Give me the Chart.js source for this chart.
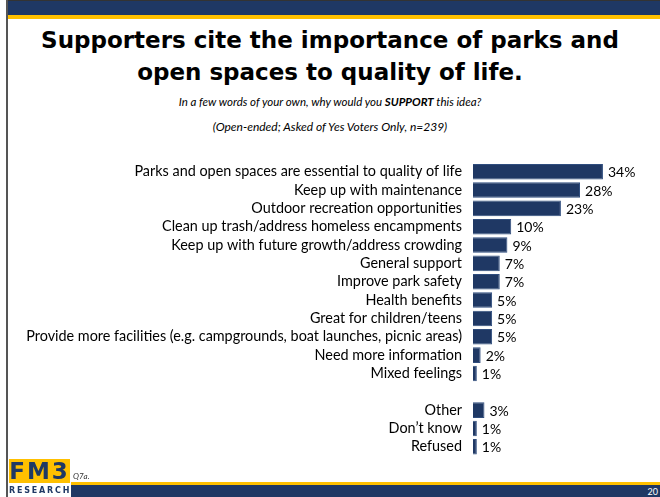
<!DOCTYPE html>
<html>
<head>
<meta charset="utf-8">
<script src="https://cdn.jsdelivr.net/npm/chart.js@4"></script>
<style>
  html, body { margin: 0; padding: 0; background: #fff; }
  #page { position: relative; width: 660px; height: 497px; overflow: hidden; background: #fff; }
  #chart { position: absolute; left: 0; top: 0; }
  .abs { position: absolute; }
  #topbar { left: 8px; top: 0; width: 652px; height: 15px; background: #1f3864; border-top: 1px solid #333; box-sizing: border-box; }
  #topline { left: 8px; top: 15px; width: 652px; height: 4px; background: #ffc000; }
  #leftline { left: 6px; top: 0; width: 2px; height: 497px; background: #555; }
  #title { left: 0; top: 24px; width: 660px; text-align: center; font-family: "DejaVu Sans", sans-serif; font-weight: bold; font-size: 23px; line-height: 32px; color: #000; }
  .sub { left: 0; width: 660px; text-align: center; font-family: Lato, sans-serif; font-style: italic; font-size: 12px; color: #000; }
  #botline { left: 71px; top: 482px; width: 589px; height: 3px; background: #ffc000; }
  #botbar { left: 71px; top: 485px; width: 589px; height: 12px; background: #1f3864; }
  #logo { left: 9px; top: 459px; width: 61px; height: 24px; background: #ffc000; color: #1f3864; font-family: "DejaVu Sans", sans-serif; font-weight: bold; font-size: 23px; line-height: 25px; text-align: center; letter-spacing: 2px; }
  #research { left: 9px; top: 485px; width: 61px; height: 12px; color: #1f3864; font-family: "DejaVu Sans", sans-serif; font-weight: bold; font-size: 8px; line-height: 12px; letter-spacing: 1.8px; }
  #q { left: 73px; top: 471px; font-family: Lato, sans-serif; font-style: italic; font-size: 8px; color: #333; }
  #pnum { left: 640px; top: 486px; width: 18px; text-align: right; font-family: Lato, sans-serif; font-size: 9px; color: #fff; }
</style>
</head>
<body>
<div id="page">
  <div class="abs" id="leftline"></div>
  <div class="abs" id="topbar"></div>
  <div class="abs" id="topline"></div>
  <div class="abs" id="title">Supporters cite the importance of parks and<br>open spaces to quality of life.</div>
  <div class="abs sub" style="top:95px; font-size:11.5px;">In a few words of your own, why would you <b>SUPPORT</b> this idea?</div>
  <div class="abs sub" style="top:119px;">(Open-ended; Asked of Yes Voters Only, n=239)</div>
  <canvas id="chart" width="660" height="497"></canvas>
  <div class="abs" id="logo">FM3</div>
  <div class="abs" id="research">RESEARCH</div>
  <div class="abs" id="q">Q7a.</div>
  <div class="abs" id="botline"></div>
  <div class="abs" id="botbar"></div>
  <div class="abs" id="pnum">20</div>
</div>
<script>
// 主な理由
const mainCategories = [
  'Parks and open spaces are essential to quality of life',
  'Keep up with maintenance',
  'Outdoor recreation opportunities',
  'Clean up trash/address homeless encampments',
  'Keep up with future growth/address crowding',
  'General support',
  'Improve park safety',
  'Health benefits',
  'Great for children/teens',
  'Provide more facilities (e.g. campgrounds, boat launches, picnic areas)',
  'Need more information',
  'Mixed feelings'
];
const mainValues = [34, 28, 23, 10, 9, 7, 7, 5, 5, 5, 2, 1];

// その他
const otherCategories = ['Other', 'Don\u2019t know', 'Refused'];
const otherValues = [3, 1, 1];

const labels = [...mainCategories, '', ...otherCategories];
const values = [...mainValues, null, ...otherValues];

const navy = '#1f3864';

// バーの右に%を描く
const valueLabels = {
  id: 'valueLabels',
  afterDatasetsDraw(chart) {
    const ctx = chart.ctx;
    const meta = chart.getDatasetMeta(0);
    ctx.save();
    ctx.font = '14px Lato';
    ctx.fillStyle = '#000';
    ctx.textBaseline = 'middle';
    meta.data.forEach((bar, i) => {
      if (values[i] == null) return;
      ctx.fillText(values[i] + '%', bar.x + 5, bar.y + 1);
    });
    ctx.restore();
  }
};

new Chart(document.getElementById('chart'), {
  type: 'bar',
  data: {
    labels: labels,
    datasets: [{
      data: values,
      backgroundColor: navy,
      borderColor: '#2f4d7e',
      borderWidth: 1,
      barPercentage: 0.85,
      categoryPercentage: 1
    }]
  },
  options: {
    indexAxis: 'y',
    responsive: false,
    animation: false,
    layout: { padding: { top: 162.5, bottom: 41, right: 15, left: 0 } },
    plugins: { legend: { display: false }, tooltip: { enabled: false } },
    scales: {
      x: { display: false, min: 0, max: 45 },
      y: {
        grid: { display: false },
        border: { display: false },
        ticks: { color: '#000', font: { family: 'Lato', size: 14.4 }, padding: 3, autoSkip: false },
        afterFit(scale) { scale.width = 473; }
      }
    }
  },
  plugins: [valueLabels]
});
</script>
</body>
</html>
